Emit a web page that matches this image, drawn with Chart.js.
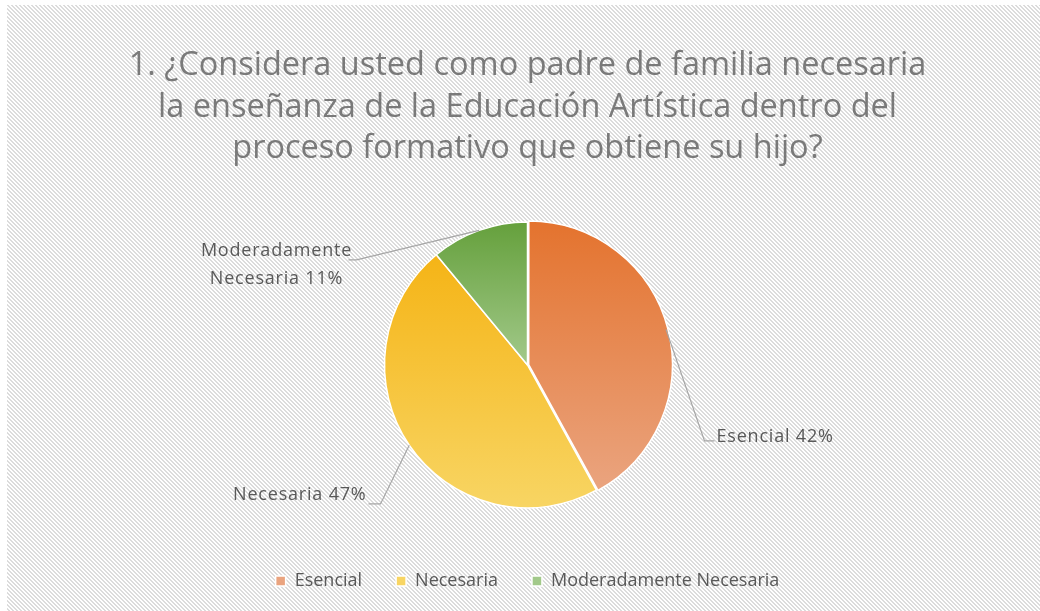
<!DOCTYPE html>
<html>
<head>
<meta charset="utf-8">
<script src="https://cdn.jsdelivr.net/npm/chart.js@4.4.1/dist/chart.umd.min.js"></script>
<style>
  html, body { margin: 0; padding: 0; background: #fff; }
  #wrap {
    position: absolute; left: 7px; top: 5px; width: 1033px; height: 606px;
    background-color: #ffffff;
    background-image: url("data:image/svg+xml,%3Csvg xmlns='http://www.w3.org/2000/svg' width='4' height='4' shape-rendering='crispEdges'%3E%3Cpath fill='%23dcdcdc' d='M0 0h2v1H0zM1 1h2v1H1zM2 2h2v1H2zM3 3h1v1H3zM0 3h1v1H0z'/%3E%3C/svg%3E");
    background-size: 4px 4px;
  }
  canvas { display: block; }
</style>
</head>
<body>
<div id="wrap"><canvas id="pieChart" width="1033" height="606"></canvas></div>
<script>
const categories = ["Esencial", "Necesaria", "Moderadamente Necesaria"];
const percents = [42, 47, 11];
const labelLines = [["Esencial 42%"], ["Necesaria 47%"], ["Moderadamente", "Necesaria 11%"]];
const titleLines = [
    "1. ¿Considera usted como padre de familia necesaria",
    "la enseñanza de la Educación Artística dentro del",
    "proceso formativo que obtiene su hijo?"
];
// top / bottom colour of each slice gradient
const topColors = ["#e4732e", "#f5b416", "#65a03c"];
const bottomColors = ["#eaa47f", "#f8d563", "#a2c98a"];

const PIE_R = 143;

// vertical extent of one slice, from the data
function sliceExtent(chart, i) {
    const area = chart.chartArea;
    const cy = (area.top + area.bottom) / 2;
    const total = percents.reduce((a, b) => a + b, 0);
    let cum = 0;
    for (let k = 0; k < i; k++) cum += percents[k];
    const a0 = -Math.PI / 2 + cum / total * Math.PI * 2;
    const a1 = a0 + percents[i] / total * Math.PI * 2;
    let ys = [cy, cy + PIE_R * Math.sin(a0), cy + PIE_R * Math.sin(a1)];
    [-Math.PI / 2, Math.PI / 2, Math.PI * 1.5].forEach(a => {
        if (a >= a0 - 1e-6 && a <= a1 + 1e-6) ys.push(cy + PIE_R * Math.sin(a));
    });
    return [Math.min(...ys), Math.max(...ys)];
}

function sliceFill(context) {
    const chart = context.chart;
    if (!chart.chartArea) return topColors[context.dataIndex];
    const [y0, y1] = sliceExtent(chart, context.dataIndex);
    const g = chart.ctx.createLinearGradient(0, y0, 0, y1);
    g.addColorStop(0, topColors[context.dataIndex]);
    g.addColorStop(1, bottomColors[context.dataIndex]);
    return g;
}

// label anchors relative to the pie centre
const labelAnchors = [
    { dx: 177, dy: 76, tick: 10, align: "left", textDy: -4 },
    { dx: -147, dy: 139, tick: -12, align: "right", textDy: -9 },
    { dx: -171, dy: -105, tick: -8, align: "center", textDx: -80, textDy: 5 }
];

const leaderLabels = {
    id: "leaderLabels",
    afterDatasetsDraw(chart) {
        const ctx = chart.ctx;
        const meta = chart.getDatasetMeta(0);
        const area = chart.chartArea;
        const cx = (area.left + area.right) / 2;
        const cy = (area.top + area.bottom) / 2;
        ctx.save();
        ctx.font = "18px 'Open Sans', sans-serif";
        ctx.letterSpacing = "0.8px";
        ctx.textBaseline = "middle";
        meta.data.forEach((arc, i) => {
            const mid = (arc.startAngle + arc.endAngle) / 2;
            const ex = arc.x + PIE_R * Math.cos(mid);
            const ey = arc.y + PIE_R * Math.sin(mid);
            const a = labelAnchors[i];
            const lx = cx + a.dx, ly = cy + a.dy;
            ctx.strokeStyle = "#a6a6a6";
            ctx.lineWidth = 1.2;
            ctx.beginPath();
            ctx.moveTo(ex, ey);
            ctx.lineTo(lx, ly);
            ctx.lineTo(lx + a.tick, ly);
            ctx.stroke();
            ctx.fillStyle = "#595959";
            const lines = labelLines[i];
            if (a.align === "center") {
                ctx.textAlign = "center";
                lines.forEach((t, k) => ctx.fillText(t, lx + a.textDx, ly + a.textDy + (k - 0.5) * 28));
            } else {
                ctx.textAlign = a.align;
                ctx.fillText(lines[0], lx + a.tick + (a.align === "left" ? 2 : -2), ly + a.textDy);
            }
        });
        ctx.restore();
    }
};

const pieCtx = document.getElementById("pieChart").getContext("2d");
const pieChart = new Chart(pieCtx, {
    type: "pie",
    data: {
        labels: categories,
        datasets: [{
            data: percents,
            backgroundColor: sliceFill,
            borderColor: "#ffffff",
            borderWidth: 1.5,
            offset: [5, 0, 0],
        }],
    },
    options: {
        responsive: false,
        animation: false,
        radius: PIE_R,
        layout: { padding: { left: 8, right: 0, top: 0, bottom: 11 } },
        plugins: {
            title: {
                display: true,
                text: titleLines,
                color: "#7a7a7a",
                font: { family: "'Open Sans', sans-serif", size: 32.5, weight: "normal", lineHeight: 1.28 },
                padding: { top: 40, bottom: 22 },
            },
            legend: {
                position: "bottom",
                labels: {
                    color: "#595959",
                    font: { family: "'Open Sans', sans-serif", size: 18 },
                    boxWidth: 10,
                    boxHeight: 10,
                    padding: 34,
                },
            },
            tooltip: { enabled: false },
        },
    },
    plugins: [leaderLabels],
});
</script>
</body>
</html>
